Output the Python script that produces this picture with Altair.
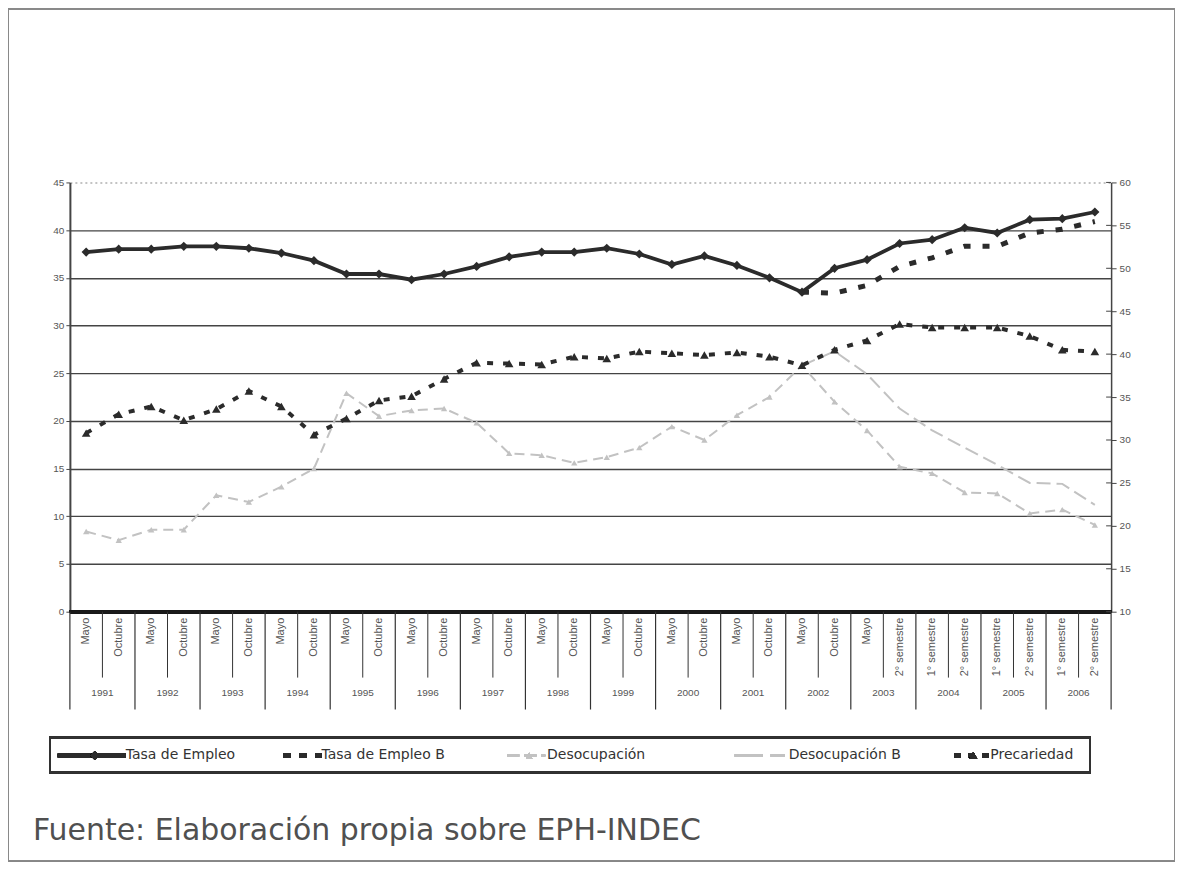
import altair as alt
import pandas as pd

# ---------------- data ----------------
periodos = ["Mayo", "Octubre"] * 12 + ["Mayo", "2° semestre"] + ["1° semestre", "2° semestre"] * 3
anios = [str(y) for y in range(1991, 2007)]

tasa_empleo = [37.7, 38.0, 38.0, 38.3, 38.3, 38.1, 37.6, 36.8, 35.4, 35.4, 34.8, 35.4,
               36.2, 37.2, 37.7, 37.7, 38.1, 37.5, 36.4, 37.3, 36.3, 35.0, 33.5, 36.0,
               36.9, 38.6, 39.0, 40.25, 39.7, 41.1, 41.2, 41.9]
tasa_empleo_b = [None] * 22 + [33.5, 33.4, 34.2, 36.2, 37.1, 38.3, 38.3, 39.7, 40.1, 40.9]
desocupacion = [8.4, 7.5, 8.6, 8.6, 12.2, 11.5, 13.1, 15.0, 22.9, 20.5, 21.1, 21.3,
                19.8, 16.6, 16.4, 15.6, 16.2, 17.2, 19.4, 18.0, 20.6, 22.5, 25.8, 22.0,
                19.0, 15.2, 14.5, 12.5, 12.4, 10.3, 10.7, 9.1]
desocupacion_b = [None] * 22 + [25.8, 27.3, 24.9, 21.3, 19.0, 17.2, 15.4, 13.5, 13.4, 11.2]
precariedad = [30.8, 33.0, 33.9, 32.3, 33.6, 35.7, 33.9, 30.6, 32.5, 34.6, 35.1, 37.1,
               39.0, 38.9, 38.8, 39.7, 39.5, 40.3, 40.1, 39.9, 40.2, 39.7, 38.7, 40.5,
               41.6, 43.5, 43.1, 43.1, 43.1, 42.1, 40.5, 40.3]

ticks_izq = list(range(0, 46, 5))
ticks_der = list(range(10, 61, 5))
nombres = ["Tasa de Empleo", "Tasa de Empleo B", "Desocupación", "Desocupación B", "Precariedad"]
fuente = "Fuente: Elaboración propia sobre EPH-INDEC"

# ---------------- layout ----------------
W, H = 1043, 430
DARK = "#2b2b2b"
LIGHT = "#c2c2c2"
FONT = "Liberation Sans, Arial"
N = len(periodos)

df = pd.DataFrame({
    "pos": [i + 0.5 for i in range(N)],
    "periodo": periodos,
    "tasa": tasa_empleo,
    "tasa_b": tasa_empleo_b,
    "des": desocupacion,
    "des_b": desocupacion_b,
    "prec": precariedad,
})
df_anios = pd.DataFrame({"pos": [2 * k + 1 for k in range(len(anios))], "anio": anios})
df_bordes = pd.DataFrame({"b": list(range(N + 1))})
df_bordes["tipo"] = ["anio" if b % 2 == 0 else "sub" for b in df_bordes["b"]]
df_tder = pd.DataFrame({"v": ticks_der})

xs = alt.Scale(domain=[0, N], nice=False, zero=False)
X = alt.X("pos:Q", scale=xs, axis=None)

yl = alt.Scale(domain=[0, 45], nice=False, zero=False)
yr = alt.Scale(domain=[10, 60], nice=False, zero=False)

ax_l = alt.Axis(
    orient="left", values=ticks_izq, title=None, grid=True,
    gridColor={"condition": {"test": "datum.value === 45", "value": "#b0b0b0"}, "value": "#444444"},
    gridDash={"condition": {"test": "datum.value === 45", "value": [2, 3]}, "value": []},
    gridWidth=1.4, domainColor="#444444", domainWidth=2, tickColor="#444444",
    tickSize=4, labelColor="#555555", labelFontSize=10, labelFont=FONT, labelPadding=2,
)
ax_r = alt.Axis(
    orient="right", values=ticks_der, title=None, grid=False,
    domainColor="#444444", domainWidth=1.5, tickColor="#444444", tickSize=5,
    labelColor="#555555", labelFontSize=10, labelFont=FONT, labelPadding=3,
)

base = alt.Chart(df)

def YL(f):
    return alt.Y(f + ":Q", scale=yl, axis=ax_l)

tasa_l = base.mark_line(color=DARK, strokeWidth=3.8).encode(x=X, y=YL("tasa"))
tasa_p = base.mark_point(shape="diamond", filled=True, size=85, color=DARK, opacity=1).encode(x=X, y=YL("tasa"))
tasab_l = base.mark_line(color=DARK, strokeWidth=5, strokeDash=[7, 12]).encode(x=X, y=YL("tasa_b"))
des_l = base.mark_line(color=LIGHT, strokeWidth=2, strokeDash=[10, 6]).encode(x=X, y=YL("des"))
des_p = base.mark_point(shape="triangle-up", filled=True, size=40, color=LIGHT, opacity=1).encode(x=X, y=YL("des"))
desb_l = base.mark_line(color=LIGHT, strokeWidth=2, strokeDash=[14, 6]).encode(x=X, y=YL("des_b"))

prec_l = base.mark_line(color=DARK, strokeWidth=4, strokeDash=[6, 10]).encode(
    x=X, y=alt.Y("prec:Q", scale=yr, axis=ax_r))
prec_p = base.mark_point(shape="triangle-up", filled=True, size=75, color=DARK, opacity=1).encode(
    x=X, y=alt.Y("prec:Q", scale=yr, axis=ax_r))
# inner half of the crossing ticks on the right axis
tick_in = alt.Chart(df_tder).mark_rule(color="#444444", strokeWidth=1).encode(
    x=alt.value(W - 5), x2=alt.value(W), y=alt.Y("v:Q", scale=yr, axis=ax_r))

# x axis (two-level categories)
eje0 = alt.Chart(df).mark_rule(color="#1a1a1a", strokeWidth=3).encode(
    x=alt.value(0), x2=alt.value(W), y=alt.value(H))
sub_txt = alt.Chart(df).mark_text(angle=270, align="right", baseline="middle", fontSize=11,
                                  font=FONT, color="#555555").encode(
    x=X, y=alt.value(H + 6), text="periodo:N")
sep_sub = alt.Chart(df_bordes).transform_filter(alt.datum.tipo == "sub").mark_rule(
    color="#333333", strokeWidth=1).encode(x=alt.X("b:Q", scale=xs, axis=None),
                                           y=alt.value(H), y2=alt.value(H + 66))
sep_anio = alt.Chart(df_bordes).transform_filter(alt.datum.tipo == "anio").mark_rule(
    color="#333333", strokeWidth=1.2).encode(x=alt.X("b:Q", scale=xs, axis=None),
                                             y=alt.value(H), y2=alt.value(H + 98))
anio_txt = alt.Chart(df_anios).mark_text(fontSize=10, font=FONT, color="#555555",
                                         baseline="middle").encode(
    x=alt.X("pos:Q", scale=xs, axis=None), y=alt.value(H + 81), text="anio:N")

# legend (manual)
LY = 574
LFONT = "DejaVu Sans, Liberation Sans"
leg_box = alt.Chart(df).mark_rect(fill=None, stroke="#333333", strokeWidth=1.5).encode(
    x=alt.value(-20), x2=alt.value(1022), y=alt.value(556), y2=alt.value(591))

def leg_line(x1, x2, color, width, dash=None):
    kw = dict(color=color, strokeWidth=width)
    if dash:
        kw["strokeDash"] = dash
    return alt.Chart(df).mark_rule(**kw).encode(x=alt.value(x1), x2=alt.value(x2), y=alt.value(LY))

def leg_pt(x, shape, color, size):
    return alt.Chart(df).mark_point(shape=shape, filled=True, size=size, color=color, opacity=1).encode(
        x=alt.value(x), y=alt.value(LY))

def leg_txt(x, t):
    return alt.Chart(pd.DataFrame({"t": [t]})).mark_text(
        align="left", baseline="middle", fontSize=14, font=LFONT, color="#333333").encode(
        x=alt.value(x), y=alt.value(LY), text="t:N")

legend = [
    leg_line(-12, 56, DARK, 4), leg_pt(25, "diamond", DARK, 80), leg_txt(56, nombres[0]),
    leg_line(214, 252, DARK, 5, [7, 9]), leg_txt(252, nombres[1]),
    leg_line(438, 476, LIGHT, 2, [12, 5]), leg_pt(460, "triangle-up", LIGHT, 40), leg_txt(478, nombres[2]),
    leg_line(666, 716, LIGHT, 2, [28, 8]), leg_txt(720, nombres[3]),
    leg_line(886, 922, DARK, 4, [6, 8]), leg_pt(905, "triangle-up", DARK, 60), leg_txt(922, nombres[4]),
]

fuente_txt = alt.Chart(pd.DataFrame({"t": [fuente]})).mark_text(
    align="left", baseline="middle", fontSize=30, font="DejaVu Sans, Liberation Sans",
    color="#505050").encode(x=alt.value(-37), y=alt.value(650), text="t:N")

marco = alt.Chart(df).mark_rect(fill=None, stroke="#8a8a8a", strokeWidth=1).encode(
    x=alt.value(-61.5), x2=alt.value(W + 63.5), y=alt.value(-173.5), y2=alt.value(H + 249.5))

izq = alt.layer(tasa_l, tasa_p, tasab_l, des_l, des_p, desb_l, eje0, sub_txt, sep_sub, sep_anio,
                anio_txt, leg_box, *legend, fuente_txt, marco)
der = alt.layer(prec_l, prec_p, tick_in)

chart = alt.layer(izq, der).resolve_scale(y="independent").properties(
    width=W, height=H,
    autosize=alt.AutoSizeParams(type="none"),
    padding={"left": 62, "top": 174, "right": 65, "bottom": 251},
    background="white",
).configure_view(stroke=None)

chart.save("out.html", embed_options={"renderer": "svg", "actions": False})
